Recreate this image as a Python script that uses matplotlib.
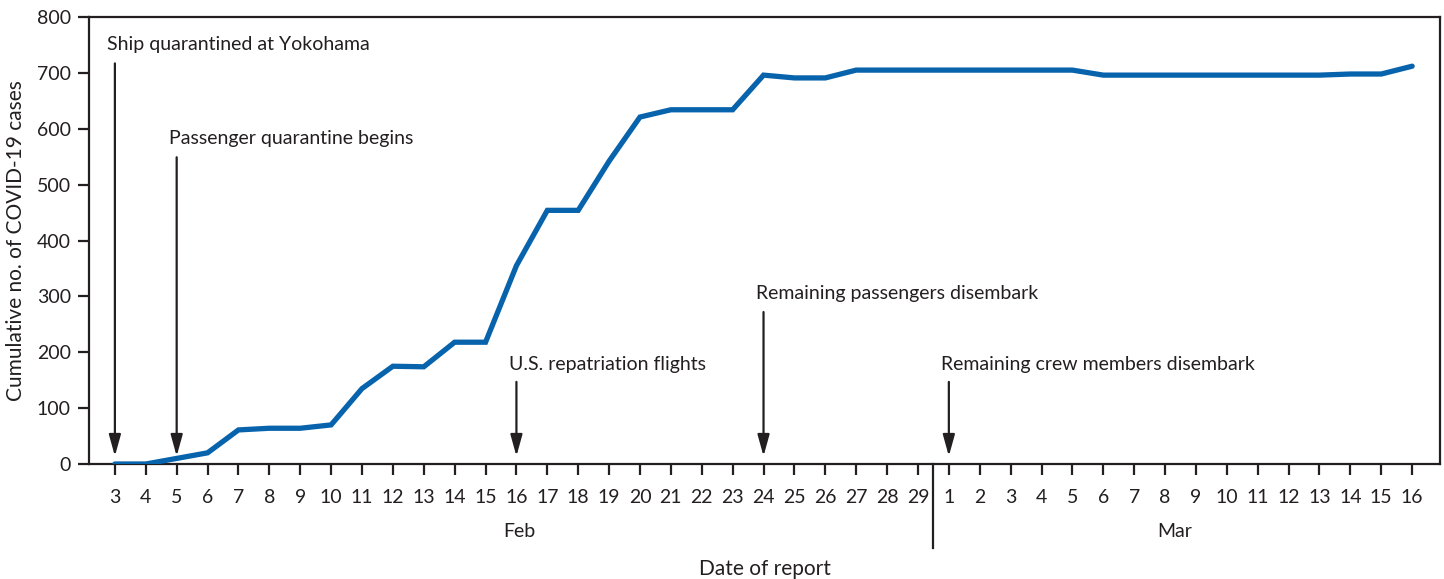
"""
Cumulative COVID-19 cases on the Diamond Princess by date of report,
with key events marked by arrows.
"""
import matplotlib
matplotlib.use('Agg')
import matplotlib.pyplot as plt
import matplotlib.transforms as mtransforms

plt.rcParams['font.family'] = ['Lato', 'DejaVu Sans']

# Day labels along the x-axis (Feb 3-29, then Mar 1-16)
feb_days = list(range(3, 30))
mar_days = list(range(1, 17))
day_labels = [str(d) for d in feb_days + mar_days]

# Cumulative cases, one per report day
cases = [0, 0, 10, 20, 61, 64, 64, 70, 135, 175, 174, 218, 218, 355, 454,
         454, 542, 621, 634, 634, 634, 696, 691, 691, 705, 705, 705,
         705, 705, 705, 705, 705, 696, 696, 696, 696, 696, 696, 696, 696,
         698, 698, 712]

# Events: (label, day index, arrow start value, text value)
events = [
    ('Ship quarantined at Yokohama', 0, 717, 735),
    ('Passenger quarantine begins', 2, 549, 567),
    ('U.S. repatriation flights', 13, 147, 163),
    ('Remaining passengers disembark', 21, 272, 290),
    ('Remaining crew members disembark', 27, 147, 163),
]

TEXT = '#231f20'
BLUE = '#0863ad'

fig = plt.figure(figsize=(14.44, 5.79), dpi=100)
ax = fig.add_axes([0.0616, 0.1986, 0.9356, 0.772])

x = list(range(len(cases)))
ax.plot(x, cases, color=BLUE, lw=3.8, solid_joinstyle='miter',
        solid_capstyle='round', zorder=3)

for label, idx, y_start, y_text in events:
    ax.annotate('', xy=(idx, 14), xytext=(idx, y_start),
                arrowprops=dict(arrowstyle='-|>,head_length=1.3,head_width=0.36',
                                color=TEXT, lw=1.6, shrinkA=0, shrinkB=0),
                zorder=4)
    ax.text(idx - 0.25, y_text, label, fontsize=14, color=TEXT,
            ha='left', va='bottom')

ax.set_xlim(-0.84, 42.9)
ax.set_ylim(0, 800)
ax.set_yticks(range(0, 801, 100))
ax.set_xticks(x)
ax.set_xticklabels(day_labels)
ax.tick_params(axis='both', direction='out', length=8, width=1.6,
               colors=TEXT, labelsize=14, labelcolor=TEXT)
ax.tick_params(axis='x', pad=10)
ax.tick_params(axis='y', pad=5)

for side in ['left', 'right', 'top', 'bottom']:
    ax.spines[side].set_linewidth(1.6)
    ax.spines[side].set_color(TEXT)

# Feb / Mar divider below the axis
trans = mtransforms.blended_transform_factory(ax.transData, ax.transAxes)
ax.plot([26.5, 26.5], [0, -0.188], color=TEXT, lw=1.6, transform=trans,
        clip_on=False)
ax.text(13.1, -0.15, 'Feb', transform=trans, fontsize=14, color=TEXT,
        ha='center', va='center')
ax.text(34.3, -0.15, 'Mar', transform=trans, fontsize=14, color=TEXT,
        ha='center', va='center')

ax.set_xlabel('Date of report', fontsize=15, color=TEXT, labelpad=38)
ax.set_ylabel('Cumulative no. of COVID-19 cases', fontsize=15, color=TEXT,
              labelpad=8)

fig.savefig('out.png', dpi=100)
